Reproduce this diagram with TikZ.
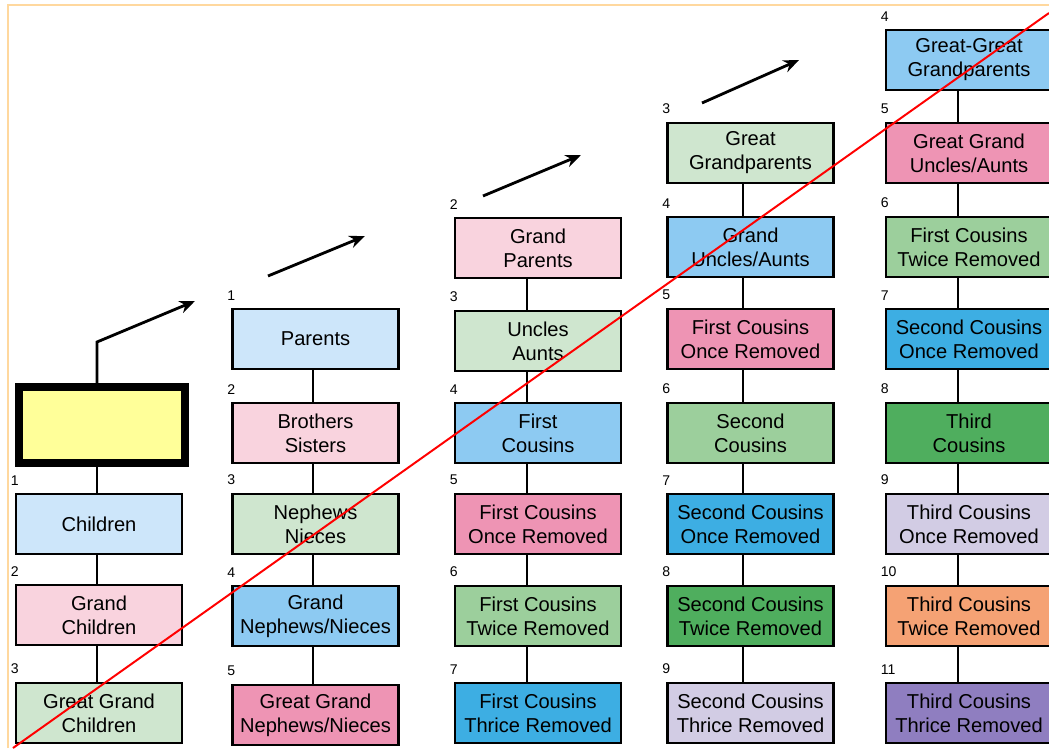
\documentclass[tikz,border=0pt]{standalone}
\usepackage{fontspec}
\setmainfont{Liberation Sans}
\usetikzlibrary{arrows.meta}

\definecolor{paleblue}{HTML}{CDE6FA}
\definecolor{palepink}{HTML}{F9D3DE}
\definecolor{palegreen}{HTML}{CFE6CF}
\definecolor{midblue}{HTML}{8DCAF2}
\definecolor{midpink}{HTML}{EE94B4}
\definecolor{midgreen}{HTML}{9CCF9C}
\definecolor{deepblue}{HTML}{3DAEE3}
\definecolor{deepgreen}{HTML}{4FAE5E}
\definecolor{lilac}{HTML}{D2CCE4}
\definecolor{peach}{HTML}{F5A274}
\definecolor{grape}{HTML}{8F7EC0}
\definecolor{selfyellow}{HTML}{FFFF99}
\definecolor{pageframe}{HTML}{FFD89E}

\tikzset{
  kin/.style={draw, line width=2pt, minimum width=4.15cm, minimum height=1.5cm,
    inner sep=0pt, align=center, font=\fontsize{14.3}{17}\selectfont},
  num/.style={font=\fontsize{10}{10}\selectfont, inner sep=0pt,
    anchor=south west, xshift=-0.1cm, yshift=0.18cm},
  spine/.style={line width=2pt},
  up/.style={line width=2pt, -{Stealth[length=11pt,width=9pt]}},
}

\begin{document}
\begin{tikzpicture}[x=0.025cm,y=-0.025cm]
			\clip (0,0) rectangle (1049,748);
			\fill[white] (0,0) rectangle (1049,748);
			\draw[pageframe, line width=2.1pt] (8,748) -- (8,5) -- (1049,5);
			
			% spines of the five columns
			\coordinate (s0) at (97,0);
			\coordinate (s1) at (313,0);
			\coordinate (s2) at (527,0);
			\coordinate (s3) at (743,0);
			\coordinate (s4) at (958,0);
			
			% column 0
			\node[kin,fill=selfyellow,line width=5.5pt,minimum height=1.9cm] (self) at (102,425) {};
			\node[kin,fill=paleblue,label={[num]north west:1}] (children) at (99,524) {Children};
			\node[kin,fill=palepink,label={[num]north west:2}] (gchildren) at (99,615) {Grand\\Children};
			\node[kin,fill=palegreen,label={[num]north west:3}] (ggchildren) at (99,713) {Great Grand\\Children};
			
			% column 1
			\node[kin,fill=paleblue,label={[num]north west:1}] (parents) at (315.5,339) {Parents};
			\node[kin,fill=palepink,label={[num]north west:2}] (siblings) at (315.5,433) {Brothers\\Sisters};
			\node[kin,fill=palegreen,label={[num]north west:3}] (nephews) at (315.5,524) {Nephews\\Nieces};
			\node[kin,fill=midblue,label={[num]north west:4}] (gnephews) at (315.5,616) {Grand\\Nephews/Nieces};
			\node[kin,fill=midpink,label={[num]north west:5}] (ggnephews) at (315.5,715) {Great Grand\\Nephews/Nieces};
			
			% column 2
			\node[kin,fill=palepink,label={[num]north west:2}] (gparents) at (538,248) {Grand\\Parents};
			\node[kin,fill=palegreen,label={[num]north west:3}] (uncles) at (538,341) {Uncles\\Aunts};
			\node[kin,fill=midblue,label={[num]north west:4}] (fc) at (538,433) {First\\Cousins};
			\node[kin,fill=midpink,label={[num]north west:5}] (fcone) at (538,524) {First Cousins\\Once Removed};
			\node[kin,fill=midgreen,label={[num]north west:6}] (fctwo) at (538,616) {First Cousins\\Twice Removed};
			\node[kin,fill=deepblue,label={[num]north west:7}] (fcthree) at (538,713) {First Cousins\\Thrice Removed};
			
			% column 3
			\node[kin,fill=palegreen,label={[num]north west:3}] (ggparents) at (750.5,153) {Great\\Grandparents};
			\node[kin,fill=midblue,label={[num]north west:4}] (guncles) at (750.5,247) {Grand\\Uncles/Aunts};
			\node[kin,fill=midpink,label={[num]north west:5}] (fconeup) at (750.5,339) {First Cousins\\Once Removed};
			\node[kin,fill=midgreen,label={[num]north west:6}] (sc) at (750.5,433) {Second\\Cousins};
			\node[kin,fill=deepblue,label={[num]north west:7}] (scone) at (750.5,524) {Second Cousins\\Once Removed};
			\node[kin,fill=deepgreen,label={[num]north west:8}] (sctwo) at (750.5,616) {Second Cousins\\Twice Removed};
			\node[kin,fill=lilac,label={[num]north west:9}] (scthree) at (750.5,713) {Second Cousins\\Thrice Removed};
			
			% column 4
			\node[kin,fill=midblue,label={[num]north west:4}] (gggparents) at (969,60) {Great-Great\\Grandparents};
			\node[kin,fill=midpink,label={[num]north west:5}] (gguncles) at (969,153) {Great Grand\\Uncles/Aunts};
			\node[kin,fill=midgreen,label={[num]north west:6}] (fctwoup) at (969,247) {First Cousins\\Twice Removed};
			\node[kin,fill=deepblue,label={[num]north west:7}] (sconeup) at (969,339) {Second Cousins\\Once Removed};
			\node[kin,fill=deepgreen,label={[num]north west:8}] (tc) at (969,433) {Third\\Cousins};
			\node[kin,fill=lilac,label={[num]north west:9}] (tcone) at (969,524) {Third Cousins\\Once Removed};
			\node[kin,fill=peach,label={[num]north west:10}] (tctwo) at (969,616) {Third Cousins\\Twice Removed};
			\node[kin,fill=grape,label={[num]north west:11}] (tcthree) at (969,713) {Third Cousins\\Thrice Removed};
			
			\draw[spine] (self.south -| s0) -- (children.north -| s0);
			\draw[spine] (children.south -| s0) -- (gchildren.north -| s0);
			\draw[spine] (gchildren.south -| s0) -- (ggchildren.north -| s0);
			
			\draw[spine] (parents.south -| s1) -- (siblings.north -| s1);
			\draw[spine] (siblings.south -| s1) -- (nephews.north -| s1);
			\draw[spine] (nephews.south -| s1) -- (gnephews.north -| s1);
			\draw[spine] (gnephews.south -| s1) -- (ggnephews.north -| s1);
			
			\draw[spine] (gparents.south -| s2) -- (uncles.north -| s2);
			\draw[spine] (uncles.south -| s2) -- (fc.north -| s2);
			\draw[spine] (fc.south -| s2) -- (fcone.north -| s2);
			\draw[spine] (fcone.south -| s2) -- (fctwo.north -| s2);
			\draw[spine] (fctwo.south -| s2) -- (fcthree.north -| s2);
			
			\draw[spine] (ggparents.south -| s3) -- (guncles.north -| s3);
			\draw[spine] (guncles.south -| s3) -- (fconeup.north -| s3);
			\draw[spine] (fconeup.south -| s3) -- (sc.north -| s3);
			\draw[spine] (sc.south -| s3) -- (scone.north -| s3);
			\draw[spine] (scone.south -| s3) -- (sctwo.north -| s3);
			\draw[spine] (sctwo.south -| s3) -- (scthree.north -| s3);
			
			\draw[spine] (gggparents.south -| s4) -- (gguncles.north -| s4);
			\draw[spine] (gguncles.south -| s4) -- (fctwoup.north -| s4);
			\draw[spine] (fctwoup.south -| s4) -- (sconeup.north -| s4);
			\draw[spine] (sconeup.south -| s4) -- (tc.north -| s4);
			\draw[spine] (tc.south -| s4) -- (tcone.north -| s4);
			\draw[spine] (tcone.south -| s4) -- (tctwo.north -| s4);
			\draw[spine] (tctwo.south -| s4) -- (tcthree.north -| s4);
			
			% arrows up one generation
			\coordinate (bend0) at (97,342);
			\coordinate (tip0) at (195,301);
			\coordinate (tail1) at (268,276);
			\coordinate (tip1) at (365,236);
			\coordinate (tail2) at (483,196);
			\coordinate (tip2) at (581,155);
			\coordinate (tail3) at (702,103);
			\coordinate (tip3) at (799,60);
			\draw[up] (self.north -| s0) -- (bend0) -- (tip0);
			\draw[up] (tail1) -- (tip1);
			\draw[up] (tail2) -- (tip2);
			\draw[up] (tail3) -- (tip3);
			
			% red diagonal
			\coordinate (redlow) at (13,748);
			\coordinate (redhigh) at (1049,13);
			\draw[red, line width=1.4pt] (redlow) -- (redhigh);
		\end{tikzpicture}
\end{document}
